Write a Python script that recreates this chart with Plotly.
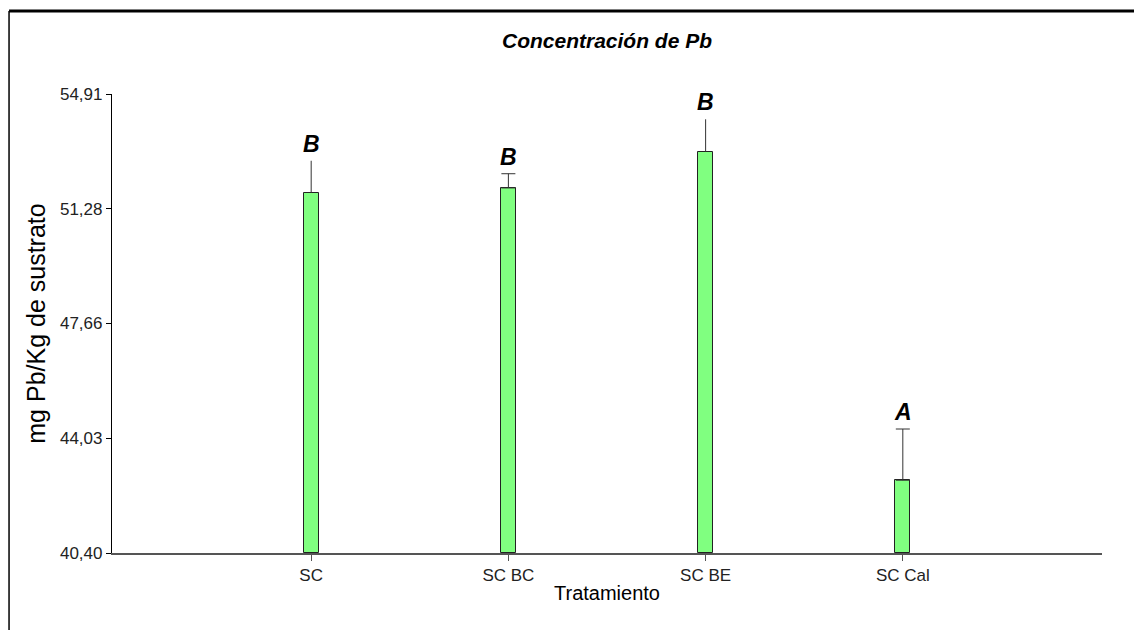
import plotly.graph_objects as go

categories = ["SC", "SC BC", "SC BE", "SC Cal"]
means = [51.79, 51.94, 53.09, 42.70]
errors = [1.01, 0.45, 1.02, 1.62]
letters = ["B", "B", "B", "A"]
capped = [False, True, False, True]
y_ticks = [40.40, 44.03, 47.66, 51.28, 54.91]
y_tick_labels = ["40,40", "44,03", "47,66", "51,28", "54,91"]

FONT = "Liberation Sans, Arial, sans-serif"

fig = go.Figure()
fig.add_trace(go.Bar(
    x=categories, y=[m - y_ticks[0] for m in means], base=y_ticks[0],
    width=0.075,
    marker=dict(color="#80FF80", line=dict(color="#222222", width=1)),
    showlegend=False, hoverinfo="skip",
))

for cap_flag, w in [(False, 0), (True, 7)]:
    xs = [c for c, f in zip(categories, capped) if f == cap_flag]
    ys = [m for m, f in zip(means, capped) if f == cap_flag]
    es = [e for e, f in zip(errors, capped) if f == cap_flag]
    fig.add_trace(go.Scatter(
        x=xs, y=ys, mode="markers",
        marker=dict(size=1, opacity=0),
        error_y=dict(type="data", array=es, arrayminus=[0] * len(es),
                     symmetric=False, color="#333333", thickness=1, width=w),
        showlegend=False, hoverinfo="skip",
    ))

for c, m, e, l in zip(categories, means, errors, letters):
    fig.add_annotation(
        x=c, y=m + e, text=l, showarrow=False, yanchor="bottom", yshift=2,
        font=dict(family=FONT, size=23, color="black", weight="bold", style="italic"),
    )

# figure frame (top and left edges)
fig.add_shape(type="line", xref="paper", yref="paper", x0=-0.104, x1=1.05, y0=1.1808, y1=1.1808,
              line=dict(color="black", width=3))
fig.add_shape(type="line", xref="paper", yref="paper", x0=-0.104, x1=-0.104, y0=-0.2, y1=1.1808,
              line=dict(color="black", width=1.5))

fig.update_layout(
    width=1134, height=630,
    margin=dict(l=112, r=32, t=94, b=77),
    paper_bgcolor="white", plot_bgcolor="white",
    title=dict(text="Concentración de Pb", x=0.5, xref="paper", xanchor="center",
               y=0.935, yref="container", yanchor="middle",
               font=dict(family=FONT, size=21, color="black", weight="bold", style="italic")),
    font=dict(family=FONT, color="#222222"),
    bargap=0,
)
fig.update_xaxes(
    type="category", range=[-1.01, 4.01],
    showline=True, linecolor="#555555", linewidth=1.5,
    ticks="outside", ticklen=6, tickcolor="#555555",
    tickfont=dict(family=FONT, size=17, color="#222222"),
    showgrid=False, zeroline=False,
    title=dict(text="Tratamiento", font=dict(family=FONT, size=20, color="black"), standoff=2),
)
fig.update_yaxes(
    range=[y_ticks[0], y_ticks[-1]],
    tickvals=y_ticks, ticktext=y_tick_labels,
    showline=True, linecolor="black", linewidth=1.2,
    ticks="outside", ticklen=5, tickcolor="black",
    tickfont=dict(family=FONT, size=17, color="#222222"),
    showgrid=False, zeroline=False,
    title=dict(text="mg Pb/Kg de sustrato", font=dict(family=FONT, size=25, color="black"), standoff=7),
)

fig.write_html("out.html", config={"displayModeBar": False},
               post_script="document.body.style.margin='0';")
